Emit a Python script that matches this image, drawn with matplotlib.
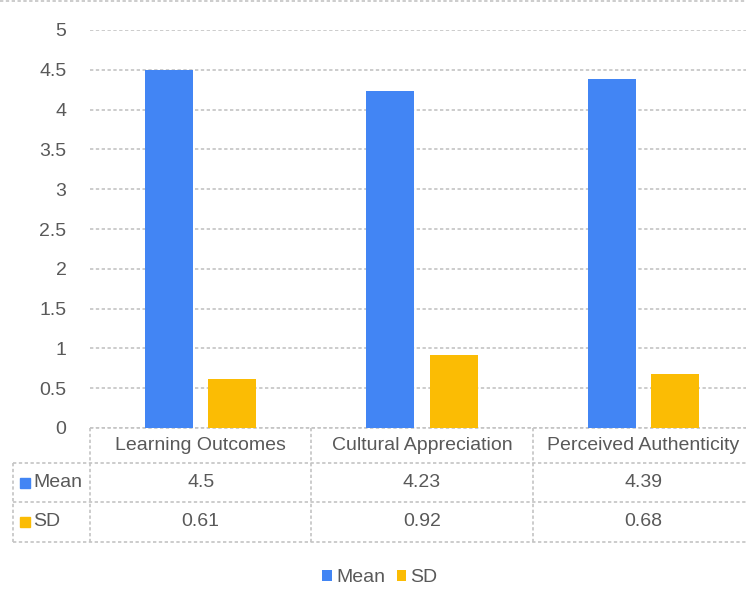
import numpy as np
import matplotlib
matplotlib.use('Agg')
import matplotlib.pyplot as plt
import matplotlib.transforms as mtransforms
from matplotlib.lines import Line2D

plt.rcParams['font.family'] = ['Liberation Sans', 'DejaVu Sans']

# data
categories = ['Learning Outcomes', 'Cultural Appreciation', 'Perceived Authenticity']
series_names = ['Mean', 'SD']
mean_vals = [4.5, 4.23, 4.39]
sd_vals = [0.61, 0.92, 0.68]
yticks = [0, 0.5, 1, 1.5, 2, 2.5, 3, 3.5, 4, 4.5, 5]
colors = ['#4285f4', '#fbbc04']

W, H = 746, 591
fig = plt.figure(figsize=(W / 100, H / 100), dpi=100)
ax = fig.add_axes([90 / W, 1 - 428 / H, 664 / W, 398 / H])

txt_col = '#595959'
grid_col = '#c4c4c4'
fs = 14

x = np.arange(len(categories))
bw = 0.217
off = 0.143
ax.bar(x - off, mean_vals, bw, color=colors[0], label=series_names[0], zorder=3)
ax.bar(x + off, sd_vals, bw, color=colors[1], label=series_names[1], zorder=3)

ax.set_xlim(-0.5, len(categories) - 0.5)
ax.set_ylim(0, 5)
ax.set_yticks(yticks)
ax.set_yticklabels([f'{v:g}' for v in yticks])
ax.set_xticks([])
ax.tick_params(axis='y', length=0, pad=17, labelsize=fs, labelcolor=txt_col)
for s in ax.spines.values():
    s.set_visible(False)
ax.yaxis.grid(True, linestyle=(0, (2, 1.5)), color=grid_col, lw=1.2, zorder=0)

# data table under the plot
trans = mtransforms.blended_transform_factory(ax.transData, ax.transAxes)
px_y = 398.0
px_x = 664.0 / len(categories)
rows_y = [0, -35 / px_y, -74 / px_y, -114 / px_y]
left = -0.5 - 77 / px_x
right = len(categories) - 0.5
lkw = dict(transform=trans, clip_on=False, color=grid_col, lw=1.2, ls=(0, (2, 1.5)))

ax.plot([-0.5, right], [rows_y[0]] * 2, **lkw)
for yy in rows_y[1:]:
    ax.plot([left, right], [yy, yy], **lkw)
for xx in np.arange(-0.5, right + 0.01, 1.0):
    ax.plot([xx, xx], [rows_y[0], rows_y[-1]], **lkw)
ax.plot([left, left], [rows_y[1], rows_y[-1]], **lkw)

for i, cat in enumerate(categories):
    ax.text(i, (rows_y[0] + rows_y[1]) / 2, cat, transform=trans, ha='center',
            va='center', fontsize=fs, color=txt_col, clip_on=False)

table_vals = [mean_vals, sd_vals]
for r, (name, vals) in enumerate(zip(series_names, table_vals)):
    ymid = (rows_y[r + 1] + rows_y[r + 2]) / 2
    ax.plot([left + 12 / px_x], [ymid], marker='s', ms=7, color=colors[r],
            transform=trans, clip_on=False)
    ax.text(left + 20 / px_x, ymid, name, transform=trans, ha='left', va='center',
            fontsize=fs, color=txt_col, clip_on=False)
    for i, v in enumerate(vals):
        ax.text(i, ymid, f'{v:g}', transform=trans, ha='center', va='center',
                fontsize=fs, color=txt_col, clip_on=False)

# legend
fig.legend(loc='center', bbox_to_anchor=(380 / W, 1 - 578 / H), ncol=2, frameon=False,
           fontsize=fs, handlelength=0.5, handleheight=0.5, handletextpad=0.2,
           columnspacing=0.6, labelcolor=txt_col)

# top border of the chart area
fig.add_artist(Line2D([0, 1], [1 - 1 / H, 1 - 1 / H], transform=fig.transFigure,
                      color=grid_col, lw=1.2, ls=(0, (2, 1.5))))

fig.savefig('out.png', dpi=100)
